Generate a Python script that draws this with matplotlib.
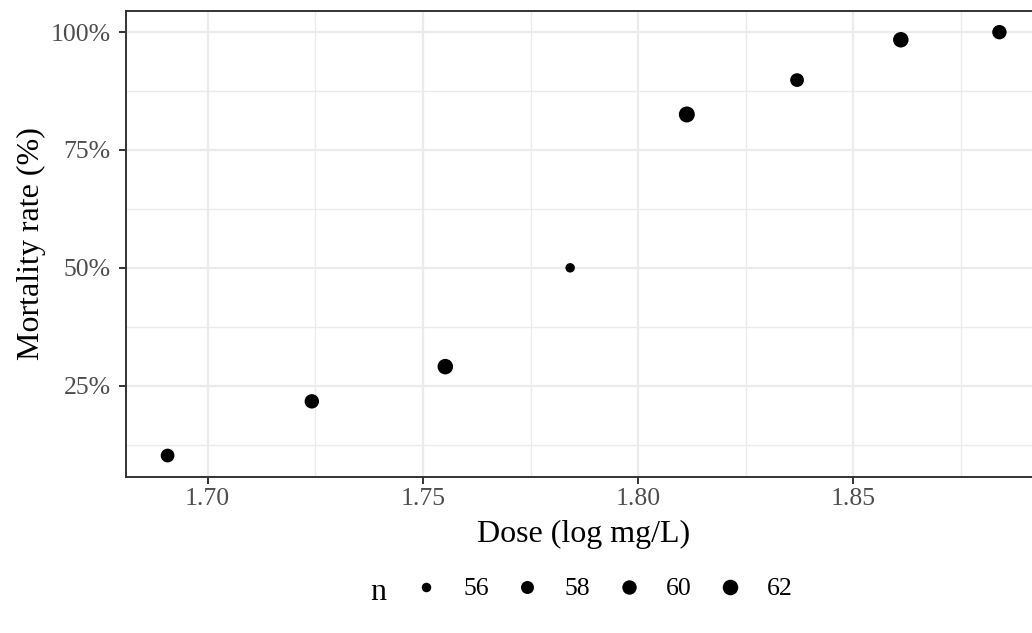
import numpy as np
import matplotlib.pyplot as plt
from matplotlib.lines import Line2D
from matplotlib.ticker import FuncFormatter, MultipleLocator

# beetle mortality data
dose = [1.6907, 1.7242, 1.7552, 1.7842, 1.8113, 1.8369, 1.8610, 1.8839]
n = [59, 60, 62, 56, 63, 59, 62, 60]
killed = [6, 13, 18, 28, 52, 53, 61, 60]
legend_breaks = [56, 58, 60, 62]

rate = np.array(killed) / np.array(n)

plt.rcParams["font.family"] = ["Liberation Serif", "DejaVu Serif"]

grey20 = "#333333"
grey30 = "#4D4D4D"
grid_col = "#EBEBEB"
tick_fs = 18.5
title_fs = 23


def size_for(v):
    # area-style scaling, diameter in px -> points^2
    lo, hi = min(n), max(n)
    d_px = 9.5 + 6.5 * np.sqrt((np.asarray(v, float) - lo) / (hi - lo))
    return (d_px * 0.72) ** 2


W, H = 1032, 633
fig = plt.figure(figsize=(W / 100, H / 100), dpi=100)
left, right, top, bottom = 126, 1041, 11, 476.7
ax = fig.add_axes([left / W, 1 - bottom / H, (right - left) / W, (bottom - top) / H])

ax.scatter(dose, rate, s=size_for(n), color="black", linewidths=0, zorder=3)

xr = max(dose) - min(dose)
yr = rate.max() - rate.min()
ax.set_xlim(min(dose) - 0.05 * xr, max(dose) + 0.05 * xr)
ax.set_ylim(rate.min() - 0.05 * yr, rate.max() + 0.05 * yr)

ax.xaxis.set_major_locator(MultipleLocator(0.05))
ax.xaxis.set_minor_locator(MultipleLocator(0.025))
ax.yaxis.set_major_locator(MultipleLocator(0.25))
ax.yaxis.set_minor_locator(MultipleLocator(0.125))
ax.xaxis.set_major_formatter(FuncFormatter(lambda v, p: f"{v:.2f}"))
ax.yaxis.set_major_formatter(FuncFormatter(lambda v, p: f"{v * 100:.0f}%"))

ax.grid(which="major", color=grid_col, linewidth=1.6, zorder=0)
ax.grid(which="minor", color=grid_col, linewidth=1.0, zorder=0)
ax.set_axisbelow(True)

for sp in ax.spines.values():
    sp.set_color(grey20)
    sp.set_linewidth(1.4)

ax.tick_params(which="major", length=5, width=1.4, color=grey20,
               labelsize=tick_fs, labelcolor=grey30, pad=3)
ax.tick_params(axis="y", which="major", pad=6)
ax.tick_params(which="minor", length=0)

ax.set_xlabel("Dose (log mg/L)", fontsize=title_fs, labelpad=7)
ax.set_ylabel("Mortality rate (%)", fontsize=title_fs, labelpad=3)

# legend for point size
handles = [Line2D([], [], linestyle="none", marker="o", color="black",
                  markeredgewidth=0, markersize=np.sqrt(size_for(b)))
           for b in legend_breaks]
fig.legend(handles, [str(b) for b in legend_breaks], ncol=4,
           loc="center", bbox_to_anchor=(603 / W, 1 - 589 / H),
           frameon=False, fontsize=tick_fs, handlelength=1.0,
           handletextpad=0.94, columnspacing=1.0)
fig.text(378 / W, 1 - 592 / H, "n", fontsize=title_fs, ha="center", va="center")

fig.savefig("out.png", dpi=100)
